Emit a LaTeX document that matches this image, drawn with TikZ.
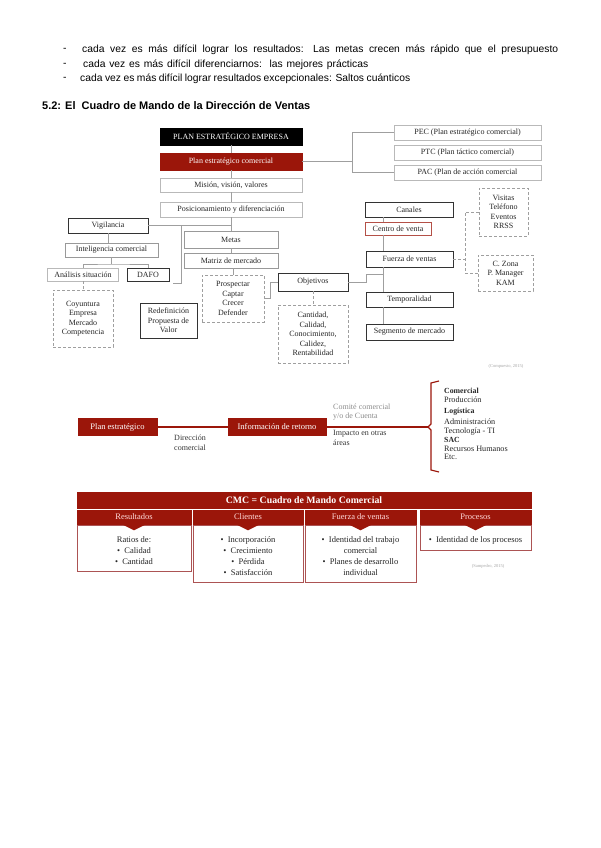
\documentclass[tikz,border=0pt]{standalone}
\usepackage{fontspec}
\setmainfont{Liberation Serif}
\newfontfamily\arialfont{Liberation Sans}
\usepackage{tikz}
\usetikzlibrary{positioning}
\definecolor{cmcred}{RGB}{155,22,10}

\begin{document}
\begin{tikzpicture}[x=1pt, y=-1pt,
    box/.style={draw=gray!55, line width=0.5pt, fill=white, inner sep=1pt, align=center,
      font=\fontsize{8}{9.5}\selectfont, text=black!85},
    midbox/.style={box, draw=gray!80},
    darkbox/.style={box, draw=black!80, line width=0.7pt},
    dashbox/.style={box, draw=gray!75, densely dashed},
    redbox/.style={box, draw=cmcred, fill=cmcred, text=white},
    blackbox/.style={box, draw=black, fill=black, text=white},
    colhead/.style={redbox, text=red!15, font=\fontsize{8.5}{9}\selectfont},
    cbox/.style={box, draw=red!35!gray, line width=0.6pt},
    ctext/.style={align=center, inner sep=0pt, font=\fontsize{8.5}{11}\selectfont, text=black!85},
    note/.style={align=left, inner sep=0pt, font=\fontsize{8}{9.5}\selectfont, text=black!80},
    link/.style={draw=gray!75, line width=0.5pt},
    dlink/.style={link, densely dashed},
    size/.style 2 args={minimum width=#1, minimum height=#2}]

    \useasboundingbox (0,0) rectangle (600,848);

    % intro text
    \foreach \y/\x/\w/\t [count=\i] in {50/82/476/{cada vez es más difícil lograr los resultados: Las metas crecen más rápido que el presupuesto},
        64.5/83/285/{cada vez es más difícil diferenciarnos:\ \ las mejores prácticas},
        79/80/330/{cada vez es más difícil lograr resultados excepcionales: Saltos cuánticos}} {
        \node[anchor=west, inner sep=0pt, font=\arialfont\fontsize{10.3}{12}\selectfont] (dash\i) at (63,\y) {-};
        \node[anchor=west, inner sep=0pt, font=\arialfont\fontsize{10.3}{12}\selectfont] (line\i) at (\x,\y) {\makebox[\w pt][s]{\t}};
    }
    \node[anchor=west, inner sep=0pt, font=\arialfont\bfseries\fontsize{11}{13}\selectfont] (title) at (42,106)
        {5.2: El\ \ Cuadro de Mando de la Dirección de Ventas};

    % upper chart
    \node[blackbox, size={142}{17}] (plan) at (231,136.5) {PLAN ESTRATÉGICO EMPRESA};
    \node[redbox, size={142}{17}] (plancom) at (231,161.5) {Plan estratégico comercial};
    \node[box, size={142}{14}] (mision) at (231,185) {Misión, visión, valores};
    \node[box, size={142}{15}] (posic) at (231,209.5) {Posicionamiento y diferenciación};
    \node[darkbox, size={80}{15}] (vigil) at (108,225.5) {Vigilancia};
    \node[midbox, size={94}{17}] (metas) at (231,239.5) {Metas};
    \node[midbox, size={94}{15}] (matriz) at (231,260.5) {Matriz de mercado};
    \node[midbox, size={93}{14}] (intel) at (111.5,250) {Inteligencia comercial};
    \node[box, size={71}{13}] (analis) at (83,274.5) {Análisis situación};
    \node[darkbox, size={42}{13}] (dafo) at (148,274.5) {DAFO};
    \node[dashbox, size={60}{57}] (coyun) at (83,318.5) {Coyuntura\\Empresa\\Mercado\\Competencia};
    \node[darkbox, size={57}{35}] (redef) at (168.5,320.5) {Redefinición\\Propuesta de\\Valor};
    \node[dashbox, size={62}{47}] (prosp) at (233,298.5) {Prospectar\\Captar\\Crecer\\Defender};
    \node[darkbox, size={70}{18}] (objet) at (313,282) {Objetivos};
    \node[dashbox, size={70}{58}] (calid) at (313,334) {Cantidad,\\Calidad,\\Conocimiento,\\Calidez,\\Rentabilidad};

    \node[box, size={147}{15}] (pecb) at (467.5,132.5) {PEC (Plan estratégico comercial)};
    \node[box, size={147}{15}] (ptc) at (467.5,152.5) {PTC (Plan táctico comercial)};
    \node[box, size={147}{15}] (pac) at (467.5,172.5) {PAC (Plan de acción comercial};

    \node[darkbox, size={88}{15}] (canal) at (409,209.5) {Canales};
    \node[box, draw=cmcred!75, size={66}{13}] (centro) at (398,228.5) {Centro de venta};
    \node[darkbox, size={87}{16}] (fuerza) at (409.5,259) {Fuerza de ventas};
    \node[darkbox, size={87}{15}] (tempo) at (409.5,299.5) {Temporalidad};
    \node[darkbox, size={87}{16}] (segm) at (409.5,332) {Segmento de mercado};
    \node[dashbox, size={49}{48}] (visit) at (503.5,212) {Visitas\\Teléfono\\Eventos\\RRSS};
    \node[dashbox, size={55}{36}] (czona) at (505.5,273) {C. Zona\\P. Manager\\KAM};

    \draw[link] (plan) -- (plancom) -- (mision) -- (posic) -- (metas) -- (matriz);
    \draw[link] (matriz.south -| prosp) -- (prosp);
    \draw[link] (vigil.east) -- (vigil.east -| posic.south);
    \coordinate (vbr) at (181,225.5);
    \coordinate (rend) at (173,283);
    \draw[link] (vbr) |- (rend);
    \draw[link] (vigil.south) -- (vigil.south |- intel.north);
    \coordinate (ibar) at (111.5,264);
    \draw[link] (intel.south) -- (ibar);
    \draw[link] (analis.north) |- (ibar) -| (dafo.north);
    \draw[dlink] (analis) -- (coyun);
    \draw[link] (objet.west) -- ++(-7,0) |- (prosp.east);
    \draw[dlink] (objet) -- (calid);

    \coordinate (pb) at (352,161.5);
    \draw[link] (plancom.east) -- (pb);
    \draw[link] (pecb.west) -| (pb);
    \draw[link] (pac.west) -| (pb);

    \coordinate (rtr) at (383,0);
    \foreach \a/\b in {canal/centro, centro/fuerza, fuerza/tempo, tempo/segm}
        \draw[link] (\a.south -| rtr) -- (\b.north -| rtr);
    \coordinate (ojoin) at (383,274);
    \draw[link] (objet.east) -- ++(18,0) |- (ojoin);
    \coordinate (fz) at (465,259);
    \draw[dlink] (fuerza.east) -- (fz);
    \draw[dlink] (visit.west) -| (fz);
    \draw[dlink] (czona.west) -| (fz);

    \node[inner sep=0pt, font=\fontsize{4.5}{5}\selectfont, text=gray!70] (src1) at (506,366) {(Compuesto, 2015)};

    % middle chart
    \node[redbox, size={79}{17}, font=\fontsize{8.5}{9}\selectfont] (plan2) at (117.5,427) {Plan estratégico};
    \node[redbox, size={98}{17}, font=\fontsize{8.5}{9}\selectfont] (inforet) at (277,427) {Información de retorno};
    \coordinate (btip) at (428,427);
    \draw[cmcred, line width=2pt] (plan2) -- (inforet) -- (btip);
    \draw[cmcred, line width=1.2pt] (439,381) -- (431,383) -- (431,424) -- (btip)
        -- (431,430) -- (431,470) -- (439,472);
    \node[note, align=center] (dircom) at (190,443) {Dirección\\comercial};
    \node[note, anchor=west, text=gray!90] (comite) at (333,412) {Comité comercial\\y/o de Cuenta};
    \node[note, anchor=west] (impacto) at (333,438) {Impacto en otras\\áreas};
    \foreach \y/\t/\f [count=\i] in {391/Comercial/\bfseries\fontsize{7.8}{9}, 400/Producción/\fontsize{8.2}{9},
        412/Logística/\bfseries\fontsize{7.8}{9}, 422/Administración/\fontsize{8.2}{9},
        432/Tecnología - TI/\fontsize{8.2}{9}, 440/SAC/\bfseries\fontsize{7.8}{9},
        449/Recursos Humanos/\fontsize{8.2}{9}, 457/Etc./\fontsize{8.2}{9}}
        \node[anchor=west, inner sep=0pt, font=\f\selectfont, text=black!85] (area\i) at (444,\y) {\t};

    % CMC table
    \node[redbox, size={454}{16}, font=\bfseries\fontsize{9.8}{10}\selectfont] (cmc) at (304,500) {CMC = Cuadro de Mando Comercial};
    \node[colhead, size={114}{14}] (resul) at (134,517) {Resultados};
    \node[colhead, size={110}{14}] (clien) at (248,517) {Clientes};
    \node[colhead, size={111}{14}] (fuerz) at (360.5,517) {Fuerza de ventas};
    \node[colhead, size={111}{14}] (proce) at (475.5,517) {Procesos};
    \node[cbox, size={114}{46}, anchor=north] (resbox) at (134,525) {};
    \node[cbox, size={110}{57}, anchor=north] (clibox) at (248,525) {};
    \node[cbox, size={111}{57}, anchor=north] (fzabox) at (360.5,525) {};
    \node[cbox, size={111}{25}, anchor=north] (probox) at (475.5,525) {};
    \foreach \h in {resul, clien, fuerz, proce}
        \fill[cmcred] ([xshift=-12pt]\h.south) -- ([xshift=12pt]\h.south) -- ([yshift=-6pt]\h.south) -- cycle;
    \node[ctext, anchor=north] (restxt) at (134,536) {Ratios de:\\•~~Calidad\\•~~Cantidad};
    \node[ctext, anchor=north] (clitxt) at (248,536) {•~~Incorporación\\•~~Crecimiento\\•~~Pérdida\\•~~Satisfacción};
    \node[ctext, anchor=north] (fzatxt) at (360.5,536) {•~~Identidad del trabajo\\comercial\\•~~Planes de desarrollo\\individual};
    \node[ctext, anchor=north] (protxt) at (475.5,536) {•~~Identidad de los procesos};
    \node[inner sep=0pt, font=\fontsize{4.5}{5}\selectfont, text=gray!70] (src2) at (488,566) {(Sampedro, 2015)};
\end{tikzpicture}
\end{document}
